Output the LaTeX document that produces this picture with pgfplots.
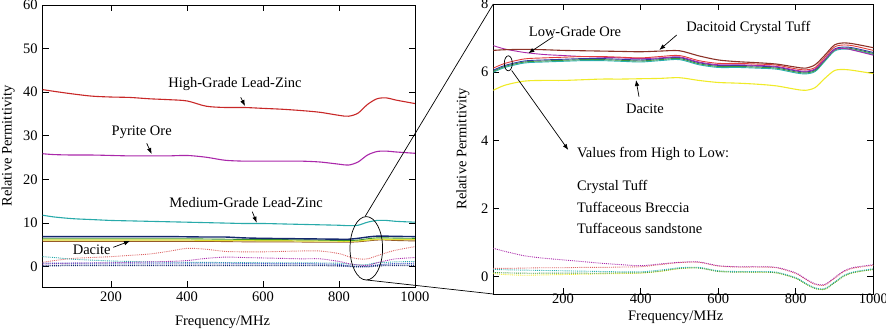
\documentclass[border=0pt]{standalone}
\usepackage{fontspec}
\setmainfont{Liberation Serif}
\usepackage{pgfplots}
\usepackage{pgfplotstable}
\pgfplotsset{compat=1.18}
\usetikzlibrary{arrows.meta}

\definecolor{hg}{RGB}{200,40,40}
\definecolor{pyr}{RGB}{170,40,170}
\definecolor{med}{RGB}{40,170,170}
\definecolor{navy}{RGB}{20,40,110}
\definecolor{grn}{RGB}{60,150,40}
\definecolor{yel}{RGB}{225,225,50}
\definecolor{brn}{RGB}{150,90,40}
\definecolor{pinkd}{RGB}{220,100,100}
\definecolor{dct}{RGB}{140,50,40}
\definecolor{ctf}{RGB}{225,60,60}
\definecolor{brc}{RGB}{50,60,160}
\definecolor{snd}{RGB}{60,150,60}
\definecolor{cyn}{RGB}{40,175,175}
\definecolor{dyel}{RGB}{240,235,40}
\definecolor{bld}{RGB}{60,80,200}

\pgfplotstableread{
f hg pyr med navy grn yel brn rd cyd mgd bld nvz
20 40.6 25.9 11.8 6.9 6.4 6.1 5.8 1.0 2.3 0.6 0.8 0.2
50 40.2 25.7 11.4 6.9 6.4 6.1 5.8 1.4 2.1 0.7 0.8 0.25
100 39.6 25.6 11.0 6.9 6.4 6.1 5.8 1.9 1.7 0.8 0.8 0.3
150 39.1 25.6 10.8 6.9 6.4 6.1 5.8 2.1 1.5 0.85 0.8 0.3
200 38.9 25.5 10.6 6.9 6.4 6.1 5.8 2.3 1.3 0.9 0.8 0.3
250 38.8 25.4 10.5 6.9 6.4 6.1 5.8 2.6 1.2 1.0 0.8 0.3
300 38.5 25.4 10.4 6.9 6.4 6.1 5.8 2.9 1.1 1.1 0.8 0.3
350 38.3 25.4 10.3 6.9 6.4 6.1 5.8 3.5 1.05 1.2 0.8 0.3
400 38.0 25.5 10.2 6.85 6.4 6.1 5.8 4.2 1.0 1.4 0.8 0.3
450 36.8 25.1 10.1 6.8 6.35 6.05 5.8 4.0 1.0 1.9 0.8 0.3
500 36.5 24.4 10.0 6.8 6.3 6.0 5.75 3.5 0.95 2.2 0.8 0.3
550 36.5 24.2 9.9 6.6 6.25 6.0 5.7 3.4 0.95 2.1 0.75 0.3
600 36.3 24.2 9.9 6.5 6.2 5.95 5.7 3.4 0.9 2.0 0.75 0.3
650 36.1 24.2 9.8 6.45 6.2 5.95 5.7 3.5 0.9 1.9 0.7 0.3
700 35.8 24.2 9.7 6.4 6.15 5.9 5.65 3.6 0.9 1.8 0.7 0.3
750 35.4 24.0 9.6 6.35 6.1 5.9 5.6 3.6 0.85 1.8 0.65 0.3
800 34.7 23.5 9.5 6.3 6.0 5.85 5.6 3.0 0.8 1.2 0.5 0.2
825 34.5 23.3 9.4 6.3 6.0 5.85 5.6 2.3 0.6 0.7 0.2 0.1
850 35.2 24.0 9.5 6.5 6.1 5.9 5.7 1.8 0.4 0.4 0.0 0.0
875 37.2 25.6 10.2 6.8 6.4 6.1 5.9 1.8 0.5 0.3 0.1 0.0
900 38.5 26.4 10.6 7.0 6.6 6.3 6.1 2.5 0.9 0.9 0.4 0.2
925 38.7 26.5 10.6 7.0 6.6 6.3 6.1 3.2 1.0 1.4 0.6 0.3
950 38.2 26.3 10.4 6.95 6.55 6.25 6.0 3.8 1.1 1.8 0.7 0.3
1000 37.4 26.0 10.2 6.9 6.5 6.2 5.9 4.6 1.2 2.1 0.8 0.3
}\lefttab

\pgfplotstableread{
f dct ctf brc snd cyn low dac mgd pkd cyd grd yld
20 6.64 6.12 6.06 6.03 6.00 6.78 5.47 0.84 0.25 0.22 0.13 0.10
50 6.66 6.26 6.20 6.17 6.14 6.68 5.62 0.75 0.25 0.21 0.12 0.07
100 6.67 6.39 6.33 6.30 6.27 6.58 5.74 0.62 0.26 0.20 0.11 0.05
150 6.66 6.42 6.36 6.33 6.30 6.52 5.76 0.55 0.27 0.19 0.11 0.06
200 6.64 6.44 6.38 6.35 6.32 6.49 5.76 0.50 0.27 0.18 0.11 0.07
250 6.63 6.46 6.40 6.37 6.34 6.46 5.78 0.45 0.28 0.17 0.11 0.08
300 6.62 6.46 6.40 6.37 6.34 6.44 5.80 0.40 0.28 0.16 0.11 0.09
350 6.61 6.44 6.38 6.35 6.32 6.42 5.80 0.36 0.29 0.15 0.12 0.10
400 6.60 6.42 6.36 6.33 6.30 6.40 5.81 0.33 0.30 0.15 0.12 0.11
450 6.62 6.46 6.40 6.37 6.34 6.42 5.82 0.38 0.36 0.20 0.17 0.16
500 6.63 6.49 6.43 6.40 6.37 6.45 5.84 0.43 0.42 0.27 0.25 0.24
550 6.48 6.34 6.28 6.25 6.22 6.30 5.76 0.44 0.43 0.28 0.26 0.27
600 6.36 6.26 6.20 6.17 6.14 6.22 5.70 0.33 0.32 0.18 0.16 0.17
650 6.31 6.26 6.20 6.17 6.14 6.22 5.68 0.30 0.29 0.16 0.14 0.15
700 6.28 6.24 6.18 6.15 6.12 6.20 5.65 0.30 0.29 0.16 0.14 0.14
750 6.24 6.21 6.15 6.12 6.09 6.17 5.60 0.28 0.27 0.14 0.12 0.12
800 6.15 6.10 6.04 6.01 5.98 6.06 5.50 0.12 0.10 -0.02 -0.04 -0.04
825 6.12 6.07 6.01 5.98 5.95 6.03 5.47 -0.05 -0.07 -0.18 -0.20 -0.20
850 6.22 6.14 6.08 6.05 6.02 6.10 5.55 -0.20 -0.22 -0.32 -0.34 -0.34
875 6.50 6.44 6.38 6.35 6.32 6.38 5.82 -0.22 -0.24 -0.34 -0.36 -0.36
900 6.80 6.74 6.68 6.65 6.62 6.66 6.05 -0.02 -0.04 -0.15 -0.17 -0.17
925 6.86 6.80 6.74 6.71 6.68 6.70 6.08 0.18 0.16 0.05 0.03 0.03
950 6.83 6.77 6.71 6.68 6.65 6.64 6.05 0.28 0.26 0.15 0.13 0.13
1000 6.72 6.64 6.58 6.55 6.52 6.50 5.96 0.36 0.34 0.24 0.22 0.22
}\righttab

\pgfplotsset{
  myaxis/.style={
    scale only axis,
    anchor=south west,
    xmin=20, xmax=1000,
    xtick={200,400,600,800,1000},
    tick align=inside,
    tick pos=both,
    xticklabel pos=lower,
    yticklabel pos=left,
    major tick length=6pt,
    axis line style={line width=0.9pt},
    every tick/.style={black, line width=0.9pt},
    /pgf/number format/assume math mode=true,
    /pgf/number format/1000 sep={},
    xlabel={Frequency/MHz},
    ylabel={Relative Permittivity},
    every axis plot/.append style={smooth, line width=0.9pt},
  }
}

\begin{document}
\fontsize{14.5}{17}\selectfont
\begin{tikzpicture}
\useasboundingbox (0,0) rectangle (886pt,330pt);

% Left axis
\begin{axis}[myaxis,
  at={(42.7pt,43pt)},
  width=372.3pt, height=282pt,
  ymin=-4.66, ymax=60,
  ytick={0,10,20,30,40,50,60},
  xlabel style={at={(axis description cs:0.483,-0.124)}, anchor=center},
  ylabel style={at={(axis description cs:-0.093,0.5)}, anchor=center},
]
\addplot[hg, line width=1.1pt] table[x=f,y=hg]{\lefttab};
\addplot[pyr, line width=1.1pt] table[x=f,y=pyr]{\lefttab};
\addplot[med, line width=1.1pt] table[x=f,y=med]{\lefttab};
\addplot[brn] table[x=f,y=brn]{\lefttab};
\addplot[yel, line width=1.2pt] table[x=f,y=yel]{\lefttab};
\addplot[grn] table[x=f,y=grn]{\lefttab};
\addplot[navy, line width=1.4pt] table[x=f,y=navy]{\lefttab};
\addplot[pinkd, densely dotted] table[x=f,y=rd]{\lefttab};
\addplot[med, densely dotted] table[x=f,y=cyd]{\lefttab};
\addplot[pyr, densely dotted] table[x=f,y=mgd]{\lefttab};
\addplot[bld, densely dotted, line width=1pt] table[x=f,y=bld]{\lefttab};
\addplot[navy, densely dotted, line width=1.5pt] table[x=f,y=nvz]{\lefttab};
\end{axis}

% Right axis
\begin{axis}[myaxis,
  at={(493.3pt,36pt)},
  width=380pt, height=290pt,
  ymin=-0.5, ymax=8,
  ytick={0,2,4,6,8},
  xticklabel style={inner sep=1pt, yshift=1pt},
  xlabel style={at={(axis description cs:0.48,-0.082)}, anchor=center},
  ylabel style={at={(axis description cs:-0.08,0.5)}, anchor=center},
]
\addplot[dyel, line width=1.1pt] table[x=f,y=dac]{\righttab};
\addplot[cyn] table[x=f,y=cyn]{\righttab};
\addplot[snd] table[x=f,y=snd]{\righttab};
\addplot[brc] table[x=f,y=brc]{\righttab};
\addplot[pyr] table[x=f,y=low]{\righttab};
\addplot[ctf] table[x=f,y=ctf]{\righttab};
\addplot[dct, line width=1.1pt] table[x=f,y=dct]{\righttab};
\addplot[dyel, densely dotted] table[x=f,y=yld]{\righttab};
\addplot[snd, densely dotted] table[x=f,y=grd]{\righttab};
\addplot[cyn, densely dotted] table[x=f,y=cyd]{\righttab};
\addplot[pinkd, densely dotted] table[x=f,y=pkd]{\righttab};
\addplot[pyr, densely dotted] table[x=f,y=mgd]{\righttab};
\end{axis}

% annotations
\tikzset{arr/.style={-{Latex[length=6pt,width=4.5pt]}, line width=0.7pt}}
\node at (235pt,246pt) {High-Grade Lead-Zinc};
\draw[arr] (240.7pt,232.7pt) -- (245pt,224pt);
\node at (141.7pt,197.3pt) {Pyrite Ore};
\draw[arr] (146.7pt,186.7pt) -- (151.7pt,176pt);
\node at (246pt,127.3pt) {Medium-Grade Lead-Zinc};
\draw[arr] (252.3pt,118.3pt) -- (256.7pt,107.3pt);
\node at (91.7pt,80.7pt) {Dacite};
\draw[arr] (113.3pt,82.7pt) -- (130pt,89pt);
\draw[line width=0.7pt] (366.3pt,81.7pt) ellipse [x radius=16.3pt, y radius=31.7pt];
\draw[line width=0.7pt] (365pt,113.4pt) -- (493.3pt,326pt);
\draw[line width=0.7pt] (366.7pt,50pt) -- (493.3pt,36pt);

\node at (575pt,298.3pt) {Low-Grade Ore};
\draw[arr] (553.3pt,293.3pt) -- (528.3pt,276.7pt);
\node at (748.3pt,301.7pt) {Dacitoid Crystal Tuff};
\draw[arr] (676.7pt,295pt) -- (659.3pt,280pt);
\node at (645pt,221.7pt) {Dacite};
\draw[arr] (639pt,233.3pt) -- (636pt,250pt);
\draw[line width=0.7pt] (508.3pt,266.7pt) ellipse [x radius=4pt, y radius=7.5pt];
\draw[arr] (511.7pt,259.5pt) -- (568.3pt,180pt);
\node[anchor=west] at (572pt,176pt) {Values from High to Low:};
\node[anchor=west] at (572pt,143.3pt) {Crystal Tuff};
\node[anchor=west] at (572pt,122.3pt) {Tuffaceous Breccia};
\node[anchor=west] at (572pt,101.7pt) {Tuffaceous sandstone};
\end{tikzpicture}
\end{document}
